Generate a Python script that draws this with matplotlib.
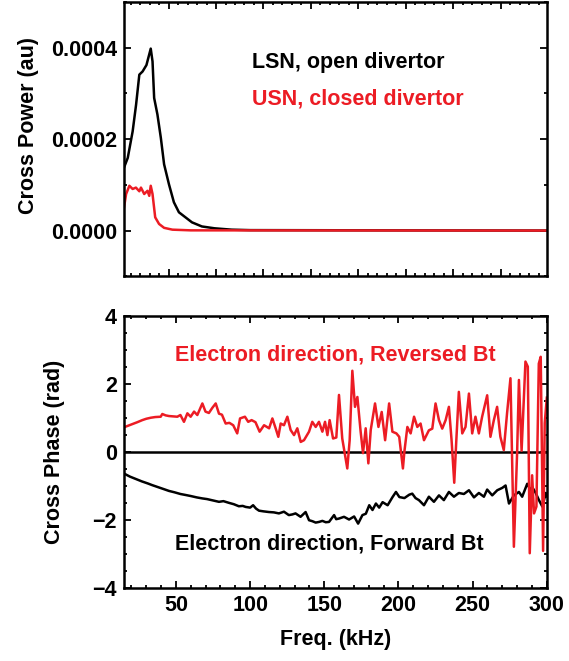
import matplotlib
matplotlib.use('Agg')
import matplotlib.pyplot as plt
from matplotlib.ticker import MultipleLocator

plt.rcParams['font.family'] = ['Liberation Sans', 'DejaVu Sans']
plt.rcParams['font.weight'] = 'bold'
plt.rcParams['axes.labelweight'] = 'bold'
plt.rcParams['font.size'] = 15.5

RED = '#ec1c24'

# --- top panel: cross power ---
lsn_freq = [15, 17.5, 20.8, 23.1, 25.3, 27.5, 30.1, 33, 34.2, 35.3, 37.5, 39.8, 42,
            45.3, 48.6, 52, 56.4, 60.8, 67.5, 76, 87.5, 100, 300]
lsn_power = [1.38e-4, 1.59e-4, 2.17e-4, 2.75e-4, 3.41e-4, 3.48e-4, 3.62e-4, 3.98e-4,
             3.7e-4, 2.9e-4, 2.54e-4, 2.03e-4, 1.45e-4, 1.01e-4, 6.2e-5, 4.0e-5,
             2.9e-5, 1.8e-5, 9e-6, 5e-6, 2e-6, 1e-6, 0]

usn_freq = [15, 16.4, 18.6, 20.8, 23, 25.3, 26.4, 28.6, 30.8, 32, 33, 34.2, 36, 38.6,
            42, 47.6, 60, 300]
usn_power = [5.1e-5, 8.0e-5, 9.8e-5, 9.1e-5, 9.4e-5, 8.6e-5, 9.4e-5, 8.0e-5, 8.7e-5,
             7.6e-5, 9.8e-5, 8.0e-5, 2.9e-5, 1.45e-5, 6e-6, 2e-6, 5e-7, 0]

# --- bottom panel: cross phase ---
rev_freq = [15, 18, 20.6, 24, 27.3, 30, 33, 36, 39.7, 40.8, 43, 45.3, 48, 50.9, 53,
            55.4, 57.7, 59.9, 62.2, 64.4, 67.8, 69.9, 72.2, 74.5, 76.8, 79, 81, 83.5,
            86, 88.6, 91.3, 93.2, 96.5, 98.7, 101, 103.6, 106.4, 109.4, 112.8, 115,
            117.2, 119, 120.6, 122.8, 125.1, 127.3, 129.6, 131.8, 134.1, 136.3, 139.7,
            141.9, 144.2, 146.4, 148.7, 150.5, 152.1, 153.6, 155.9, 158.1, 159.9,
            162.1, 165.5, 167.1, 168.9, 170.7, 172.3, 174.5, 176.1, 177.9, 179.7,
            181.3, 184.2, 186.5, 188.7, 191, 193.7, 195.9, 198.6, 200.5, 203, 204,
            206, 208.2, 210.5, 212.7, 214.9, 217.2, 220.5, 222.8, 225, 227.3, 229.5,
            231.8, 234, 235.8, 237.6, 239, 240.7, 243, 245.2, 247.5, 249.7, 251.9,
            254.2, 256.4, 259.8, 262, 264.3, 266.5, 268.7, 271, 273.2, 275.5, 277.8,
            280, 281.2, 283, 285.6, 287.2, 288.5, 290.1, 291.4, 293, 294.6, 295.9,
            297.5, 298.6, 300]
rev_phase = [0.73, 0.78, 0.82, 0.88, 0.94, 0.98, 1.01, 1.03, 1.04, 1.12, 1.08, 1.06,
             1.05, 1.04, 1.09, 0.89, 1.14, 1.04, 1.19, 1.09, 1.43, 1.19, 1.15, 1.3,
             1.43, 1.13, 1.1, 0.84, 0.86, 0.79, 0.55, 0.99, 1.04, 0.89, 0.94, 0.88,
             0.6, 0.79, 0.7, 0.99, 0.7, 0.45, 0.84, 0.79, 1.04, 0.65, 0.5, 0.7, 0.3,
             0.35, 0.6, 0.89, 0.74, 0.89, 0.6, 0.89, 0.5, 0.94, 0.4, 0.43, 1.68, 0.4,
             -0.48, 0.35, 2.39, 1.33, 1.62, 0.6, -0.03, 0.7, -0.33, 0.65, 1.43, 0.74,
             1.18, 0.35, 1.43, 0.6, 0.55, 0.45, -0.48, 0.02, 0.74, 0.55, 1.04, 0.74,
             0.84, 0.35, 0.64, 0.69, 1.43, 0.94, 0.69, 0.94, 1.33, 0.35, -0.9, 0.35,
             1.77, 0.55, 0.74, 1.72, 0.55, 1.04, 0.55, 1.04, 1.67, 0.45, 0.94, 1.33,
             0.45, 0.06, 1.14, 2.17, -2.78, 0.0, 2.12, 0.04, 2.66, 2.51, -2.97, -0.68,
             -1.8, -1.6, 2.6, 2.8, -2.9, 0.85, 1.6]

fwd_freq = [15, 19, 23, 27, 31, 34, 38, 42, 45.3, 49, 53, 56.6, 60, 64, 67.8, 71, 75,
            79, 82, 85.7, 89, 92.4, 95, 97, 100, 102, 104, 106, 109, 112.7, 116, 119.4,
            122.8, 126.1, 128.5, 130.6, 134, 137.4, 139.7, 142, 144.2, 146.5, 148.7,
            151, 153.2, 156.6, 158, 160, 163.3, 166.7, 170.1, 172.8, 175.7, 178, 180.3,
            182.5, 184.8, 187, 189.3, 192.7, 196, 198.3, 200.6, 204, 207.3, 209.3,
            211.5, 213.8, 217.2, 220.5, 223.9, 227.3, 230.6, 234, 237.4, 240.7, 244.1,
            247.5, 250.9, 254.2, 257.6, 259.8, 263.2, 266.6, 270, 272.2, 274.5, 277.8,
            281.2, 283.4, 286.8, 289.1, 290.2, 292.5, 294.7, 297, 299.3, 300]
fwd_phase = [-0.63, -0.72, -0.79, -0.86, -0.92, -0.97, -1.03, -1.09, -1.14, -1.18,
             -1.23, -1.26, -1.29, -1.33, -1.36, -1.38, -1.42, -1.46, -1.44, -1.49,
             -1.53, -1.59, -1.58, -1.61, -1.63, -1.56, -1.66, -1.72, -1.74, -1.76,
             -1.77, -1.8, -1.75, -1.85, -1.83, -1.8, -1.9, -1.76, -2.0, -2.03, -2.07,
             -2.05, -2.02, -2.06, -2.05, -1.85, -1.97, -1.95, -1.9, -1.98, -1.89, -2.1,
             -1.85, -1.81, -1.56, -1.7, -1.51, -1.63, -1.47, -1.56, -1.32, -1.17,
             -1.32, -1.35, -1.25, -1.22, -1.35, -1.41, -1.56, -1.31, -1.46, -1.27,
             -1.41, -1.17, -1.31, -1.2, -1.23, -1.12, -1.33, -1.2, -1.31, -1.1, -1.27,
             -1.12, -1.05, -0.98, -1.51, -1.27, -1.17, -1.31, -0.93, -1.12, -1.03,
             -1.2, -1.41, -1.6, -1.2, -1.3]

fig = plt.figure(figsize=(5.69, 6.61), dpi=100)
ax1 = fig.add_axes([0.218, 0.582, 0.743, 0.415])
ax2 = fig.add_axes([0.218, 0.110, 0.743, 0.412])

ax1.plot(lsn_freq, lsn_power, color='black', lw=1.8)
ax1.plot(usn_freq, usn_power, color=RED, lw=1.8)
ax1.set_xlim(15, 300)
ax1.set_ylim(-0.0001, 0.0005)
ax1.set_yticks([0.0, 0.0002, 0.0004])
ax1.set_yticklabels(['0.0000', '0.0002', '0.0004'])
ax1.yaxis.set_minor_locator(MultipleLocator(0.0001))
ax1.xaxis.set_major_locator(MultipleLocator(32, offset=13))
ax1.xaxis.set_minor_locator(MultipleLocator(6.4, offset=0.2))
ax1.tick_params(labelbottom=False)
ax1.set_ylabel('Cross Power (au)')
ax1.yaxis.set_label_coords(-0.2, 0.55)
ax1.text(0.303, 0.78, 'LSN, open divertor', transform=ax1.transAxes,
         color='black', va='center', ha='left')
ax1.text(0.303, 0.645, 'USN, closed divertor', transform=ax1.transAxes,
         color=RED, va='center', ha='left')

ax2.axhline(0, color='black', lw=1.8)
ax2.plot(fwd_freq, fwd_phase, color='black', lw=1.8)
ax2.plot(rev_freq, rev_phase, color=RED, lw=1.8)
ax2.set_xlim(15, 300)
ax2.set_ylim(-4, 4)
ax2.set_xticks([50, 100, 150, 200, 250, 300])
ax2.set_yticks([-4, -2, 0, 2, 4])
ax2.set_yticklabels(['\u22124', '\u22122', '0', '2', '4'])
ax2.xaxis.set_minor_locator(MultipleLocator(10))
ax2.yaxis.set_minor_locator(MultipleLocator(0.5))
ax2.set_ylabel('Cross Phase (rad)')
ax2.yaxis.set_label_coords(-0.14, 0.5)
ax2.set_xlabel('Freq. (kHz)', labelpad=9)
ax2.text(0.12, 0.857, 'Electron direction, Reversed Bt', transform=ax2.transAxes,
         color=RED, va='center', ha='left')
ax2.text(0.12, 0.162, 'Electron direction, Forward Bt', transform=ax2.transAxes,
         color='black', va='center', ha='left')

for ax in (ax1, ax2):
    for s in ax.spines.values():
        s.set_linewidth(1.8)
    ax.tick_params(which='both', direction='in', top=True, right=True, width=1.3)
    ax.tick_params(which='major', length=5, pad=5)
    ax.tick_params(which='minor', length=2.5)

fig.savefig('out.png', dpi=100)
